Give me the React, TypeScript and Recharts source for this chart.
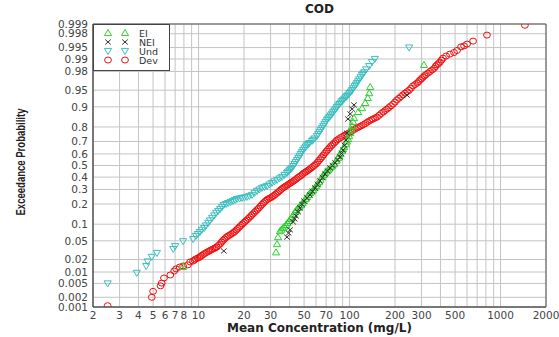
import React from "react";
import {
  ScatterChart,
  Scatter,
  XAxis,
  YAxis,
  CartesianGrid,
  ReferenceArea,
  Legend,
  Label,
} from "recharts";

// [concentration mg/L, exceedance probability]
const eiPoints: [number, number][] = [
  [7.9, 0.0135], [32.6, 0.029], [33.1, 0.043], [33.6, 0.059], [34.6, 0.076], [35.4, 0.081],
  [36.2, 0.086], [37.0, 0.0915], [37.9, 0.097], [38.8, 0.105], [39.7, 0.113], [40.6, 0.1215],
  [41.6, 0.13], [42.5, 0.1425], [43.5, 0.155], [44.5, 0.166], [45.6, 0.177], [46.6, 0.1855],
  [47.7, 0.194], [48.8, 0.2065], [49.9, 0.219], [51.1, 0.2325], [52.3, 0.246], [53.5, 0.26],
  [54.7, 0.274], [56.0, 0.285], [57.3, 0.296], [58.6, 0.3115], [60, 0.327], [61.4, 0.343],
  [62.8, 0.359], [64.2, 0.38], [65.7, 0.401], [67.2, 0.418], [68.8, 0.435], [70.4, 0.448],
  [72, 0.461], [73.7, 0.474], [75.4, 0.487], [77.2, 0.5], [79, 0.513], [81.3, 0.539],
  [83.9, 0.565], [85.2, 0.582], [86.5, 0.599], [89.1, 0.624], [90.5, 0.64], [91.9, 0.657],
  [94.7, 0.68], [96.2, 0.7], [97.7, 0.719], [99.3, 0.74], [101, 0.761], [102.5, 0.784],
  [104, 0.806], [105.5, 0.83], [107, 0.85], [114, 0.879], [121, 0.895], [127, 0.914],
  [132, 0.93], [135, 0.943], [137, 0.957], [311, 0.986],
];

const neiPoints: [number, number][] = [
  [14.7, 0.031], [38.5, 0.059], [39.5, 0.07], [40.4, 0.08], [42.3, 0.109], [43.3, 0.122],
  [44.2, 0.135], [45.6, 0.156], [47, 0.177], [48.4, 0.198], [49.9, 0.219], [52.3, 0.24],
  [54.7, 0.26], [56.8, 0.286], [59, 0.312], [61.3, 0.34], [63.7, 0.368], [66.2, 0.397],
  [68.8, 0.426], [71.5, 0.452], [74.3, 0.478], [77.2, 0.5], [80.2, 0.522], [83.3, 0.548],
  [86.5, 0.574], [88.5, 0.603], [90.6, 0.632], [92.6, 0.67], [94.7, 0.711], [96, 0.76],
  [97.7, 0.845], [101, 0.87], [104, 0.891], [107, 0.907], [240, 0.938],
];

const undPoints: [number, number][] = [
  [2.5, 0.005], [3.9, 0.0095], [4.5, 0.014], [4.6, 0.018], [4.9, 0.023], [5.3, 0.028],
  [6.8, 0.034], [7.0, 0.039], [7.9, 0.049], [9.2, 0.054], [9.6, 0.062], [9.9, 0.067],
  [10.2, 0.073], [10.5, 0.08], [10.9, 0.086], [11.2, 0.095], [11.6, 0.105], [11.9, 0.115],
  [12.3, 0.126], [12.7, 0.1375], [13.1, 0.15], [13.5, 0.16], [13.9, 0.171], [14.3, 0.1825],
  [14.7, 0.194], [15.2, 0.2], [15.7, 0.206], [16.3, 0.2125], [16.9, 0.219], [17.45, 0.2255],
  [18, 0.232], [18.7, 0.2355], [19.4, 0.239], [20.15, 0.2425], [20.9, 0.246], [21.7, 0.253],
  [22.6, 0.26], [23.5, 0.2745], [24.4, 0.289], [25.3, 0.3], [26.3, 0.312], [27.3, 0.3195],
  [28.4, 0.327], [29.5, 0.339], [30.6, 0.351], [31.8, 0.3635], [33.1, 0.376], [34.4, 0.3885],
  [35.7, 0.401], [37.1, 0.418], [38.5, 0.435], [39.2, 0.446], [40.0, 0.457], [40.8, 0.4675],
  [41.6, 0.478], [42.4, 0.4955], [43.2, 0.513], [44.0, 0.5305], [44.9, 0.548], [45.8, 0.565],
  [46.7, 0.582], [47.5, 0.599], [48.4, 0.616], [49.3, 0.6305], [50.3, 0.645], [51.3, 0.659],
  [52.3, 0.673], [53.3, 0.6805], [54.3, 0.688], [56.4, 0.704], [57.5, 0.713], [58.6, 0.722],
  [60.8, 0.74], [62.0, 0.754], [63.2, 0.768], [64.4, 0.781], [65.7, 0.794], [67.0, 0.806],
  [68.3, 0.818], [69.6, 0.829], [70.9, 0.84], [72.2, 0.8475], [73.6, 0.855], [75.0, 0.8625],
  [76.5, 0.87], [77.9, 0.8775], [79.4, 0.885], [81.0, 0.892], [82.6, 0.899], [84.1, 0.9045],
  [85.7, 0.91], [87.4, 0.915], [89.1, 0.92], [90.8, 0.924], [92.6, 0.928], [94.4, 0.9315],
  [96.2, 0.935], [98.1, 0.939], [100, 0.943], [102, 0.9465], [104, 0.95], [106, 0.954],
  [108, 0.958], [110, 0.961], [112, 0.964], [114, 0.967], [116, 0.97], [118.5, 0.973],
  [121, 0.976], [123, 0.9775], [125, 0.979], [129, 0.982], [135, 0.985], [141, 0.988],
  [147, 0.99], [248, 0.995],
];

const devPoints: [number, number][] = [
  [2.5, 0.0011], [4.9, 0.002], [5.0, 0.003], [5.6, 0.0043], [5.7, 0.0051], [5.9, 0.007],
  [6.5, 0.0084], [6.9, 0.0106], [7.1, 0.012], [7.5, 0.0133], [7.9, 0.0141], [8.5, 0.015],
  [8.8, 0.0176], [9.2, 0.0185], [9.4, 0.0196], [9.6, 0.0206], [9.85, 0.0215], [10.1, 0.0223],
  [10.3, 0.0235], [10.5, 0.0247], [10.75, 0.026], [11.0, 0.0274], [11.3, 0.0288], [11.6, 0.0302],
  [11.85, 0.0313], [12.1, 0.0325], [12.4, 0.0338], [12.7, 0.035], [12.95, 0.0363], [13.2, 0.0376],
  [13.55, 0.0405], [13.9, 0.0433], [14.2, 0.047], [14.5, 0.0507], [14.85, 0.0543], [15.2, 0.058],
  [15.55, 0.0606], [15.9, 0.0633], [16.3, 0.066], [16.7, 0.0688], [17.05, 0.0718], [17.4, 0.0748],
  [17.8, 0.0795], [18.2, 0.0844], [18.65, 0.0897], [19.1, 0.0951], [19.55, 0.1008], [20.0, 0.1066],
  [20.45, 0.1118], [20.9, 0.117], [21.4, 0.1237], [21.9, 0.1305], [22.4, 0.1376], [22.9, 0.1448],
  [23.45, 0.1525], [24.0, 0.1603], [24.55, 0.1685], [25.1, 0.1767], [25.7, 0.1868], [26.3, 0.197],
  [26.9, 0.2065], [27.5, 0.216], [28.15, 0.224], [28.8, 0.232], [29.5, 0.237], [30.2, 0.242],
  [30.9, 0.249], [31.6, 0.256], [32.35, 0.265], [33.1, 0.274], [33.85, 0.283], [34.6, 0.2925],
  [35.4, 0.302], [36.2, 0.3117], [37.05, 0.3193], [37.9, 0.327], [38.8, 0.335], [39.7, 0.343],
  [40.65, 0.351], [41.6, 0.3594], [42.55, 0.3675], [43.5, 0.3757], [44.55, 0.386], [45.6, 0.3967],
  [46.65, 0.405], [47.7, 0.4136], [48.8, 0.424], [49.9, 0.435], [51.1, 0.4435], [52.3, 0.452],
  [53.5, 0.461], [54.7, 0.47], [56.0, 0.4805], [57.3, 0.491], [58.65, 0.502], [60.0, 0.513],
  [61.4, 0.528], [62.8, 0.5435], [64.2, 0.559], [65.7, 0.574], [67.2, 0.591], [68.8, 0.608],
  [70.4, 0.6225], [72.0, 0.637], [73.7, 0.651], [75.4, 0.665], [77.2, 0.6765], [79.0, 0.688],
  [80.8, 0.6995], [82.6, 0.711], [85.1, 0.7205], [87.7, 0.73], [90.5, 0.7385], [93.3, 0.747],
  [96.2, 0.754], [99.2, 0.761], [102, 0.7695], [105, 0.778], [108.5, 0.786], [112, 0.794],
  [115.5, 0.8], [119, 0.806], [123, 0.813], [127, 0.82], [131, 0.8275], [135, 0.835],
  [139, 0.84], [143, 0.845], [147.5, 0.85], [152, 0.855], [157, 0.8635], [162, 0.872],
  [167, 0.8785], [172, 0.885], [177, 0.891], [182, 0.897], [188, 0.9035], [194, 0.91],
  [200, 0.917], [206, 0.924], [212.5, 0.929], [219, 0.934], [226, 0.9385], [233, 0.943],
  [240.5, 0.9465], [248, 0.95], [255.5, 0.9545], [263, 0.959], [271.5, 0.9615], [280, 0.964],
  [286.5, 0.9665], [293, 0.969], [299.5, 0.971], [306, 0.973], [313.5, 0.975], [321, 0.9765],
  [331, 0.9783], [341, 0.98], [352, 0.9815], [363, 0.983], [371, 0.9847], [379, 0.986],
  [388, 0.987], [397, 0.988], [406, 0.9893], [416, 0.9905], [436, 0.9916], [462, 0.9925],
  [492, 0.9932], [515, 0.994], [547, 0.9952], [573, 0.9955], [600, 0.996], [658, 0.9967],
  [813, 0.9978], [1450, 0.9989],
];

const yTickProbs = [
  0.001, 0.002, 0.005, 0.01, 0.02, 0.05, 0.1, 0.2, 0.3, 0.4, 0.5, 0.6, 0.7, 0.8, 0.9,
  0.95, 0.98, 0.99, 0.995, 0.998, 0.999,
];
const xGridValues = [
  2, 3, 4, 5, 6, 7, 8, 9, 10, 20, 30, 40, 50, 60, 70, 80, 90, 100, 200, 300, 400, 500,
  600, 700, 800, 900, 1000, 2000,
];
const xLabelValues = [2, 3, 4, 5, 6, 7, 8, 10, 20, 30, 50, 70, 100, 200, 300, 500, 1000, 2000];

const GREEN = "#2fd02f";
const CYAN = "#3bbfbf";
const RED = "#ee1111";
const BLACK = "#333";
const FONT = "'DejaVu Sans', Verdana, sans-serif";

// inverse normal CDF (Acklam) - maps probability onto the probability-paper axis
function probit(p: number): number {
  const a = [-39.69683028665376, 220.9460984245205, -275.9285104469687, 138.357751867269, -30.66479806614716, 2.506628277459239];
  const b = [-54.47609879822406, 161.5858368580409, -155.6989798598866, 66.80131188771972, -13.28068155288572];
  const c = [-0.007784894002430293, -0.3223964580411365, -2.400758277161838, -2.549732530988818, 4.374664141464968, 2.938163982698783];
  const d = [0.007784695709041462, 0.3224671290700398, 2.445134137142996, 3.754408661907416];
  const lo = 0.02425;
  if (p < lo) {
    const q = Math.sqrt(-2 * Math.log(p));
    return (((((c[0] * q + c[1]) * q + c[2]) * q + c[3]) * q + c[4]) * q + c[5]) /
      ((((d[0] * q + d[1]) * q + d[2]) * q + d[3]) * q + 1);
  }
  if (p > 1 - lo) {
    const q = Math.sqrt(-2 * Math.log(1 - p));
    return -(((((c[0] * q + c[1]) * q + c[2]) * q + c[3]) * q + c[4]) * q + c[5]) /
      ((((d[0] * q + d[1]) * q + d[2]) * q + d[3]) * q + 1);
  }
  const q = p - 0.5;
  const r = q * q;
  return ((((((a[0] * r + a[1]) * r + a[2]) * r + a[3]) * r + a[4]) * r + a[5]) * q) /
    (((((b[0] * r + b[1]) * r + b[2]) * r + b[3]) * r + b[4]) * r + 1);
}

const toXY = (pts: [number, number][]) => pts.map(([c, p]) => ({ x: c, y: probit(p) }));

const yTicks = yTickProbs.map(probit);
const yMin = probit(0.001);
const yMax = probit(0.999);

function TriUp({ cx, cy, color }: any) {
  return <polygon points={`${cx},${cy - 3.5} ${cx - 3.6},${cy + 2.6} ${cx + 3.6},${cy + 2.6}`} fill="none" stroke={color} strokeWidth={1} />;
}
function TriDown({ cx, cy, color }: any) {
  return <polygon points={`${cx - 3.6},${cy - 2.6} ${cx + 3.6},${cy - 2.6} ${cx},${cy + 3.5}`} fill="none" stroke={color} strokeWidth={1} />;
}
function Cross({ cx, cy, color }: any) {
  return (
    <g stroke={color} strokeWidth={1}>
      <line x1={cx - 2.8} y1={cy - 2.5} x2={cx + 2.8} y2={cy + 2.5} />
      <line x1={cx - 2.8} y1={cy + 2.5} x2={cx + 2.8} y2={cy - 2.5} />
    </g>
  );
}
function Ring({ cx, cy, color }: any) {
  return <ellipse cx={cx} cy={cy} rx={3.4} ry={3} fill="none" stroke={color} strokeWidth={1} />;
}

const legendItems = [
  { name: "EI", Shape: TriUp, color: GREEN },
  { name: "NEI", Shape: Cross, color: BLACK },
  { name: "Und", Shape: TriDown, color: CYAN },
  { name: "Dev", Shape: Ring, color: RED },
];

function LegendBox() {
  return (
    <svg width={77} height={47} style={{ display: "block" }}>
      <rect x={0.5} y={0.5} width={76} height={46} fill="#fff" stroke="#444" />
      {legendItems.map((it, i) => {
        const y = 9 + i * 9;
        return (
          <g key={it.name}>
            <it.Shape cx={15} cy={y} color={it.color} />
            <it.Shape cx={32} cy={y} color={it.color} />
            <text x={46} y={y} dominantBaseline="central" fontSize={9.5} fontFamily={FONT} fill="#333">
              {it.name}
            </text>
          </g>
        );
      })}
    </svg>
  );
}

export default function App() {
  const tick = { fill: "#444", fontSize: 10.5, fontFamily: FONT };
  return (
    <div style={{ position: "absolute", left: 0, top: 0, width: 559, height: 337, background: "#fff" }}>
      <div
        style={{
          position: "absolute", left: 93, top: 2, width: 453, textAlign: "center",
          fontFamily: FONT, fontWeight: "bold", fontSize: 12, color: "#222",
        }}
      >
        COD
      </div>
      <ScatterChart width={559} height={337} margin={{ top: 24, right: 13, bottom: 0, left: 0 }}>
        <CartesianGrid stroke="#c4c4c4" />
        <XAxis
          dataKey="x"
          type="number"
          scale="log"
          domain={[2, 2000]}
          allowDataOverflow
          ticks={xGridValues}
          interval={0}
          tickFormatter={(v: number) => (xLabelValues.includes(v) ? String(v) : "")}
          tickLine={false}
          axisLine={{ stroke: "#555" }}
          tick={tick}
          tickSize={3}
          tickMargin={2}
          height={30}
        >
          <Label
            value="Mean Concentration (mg/L)"
            position="insideBottom"
            offset={5}
            style={{ fontFamily: FONT, fontWeight: "bold", fontSize: 12, fill: "#222" }}
          />
        </XAxis>
        <YAxis
          dataKey="y"
          type="number"
          domain={[yMin, yMax]}
          allowDataOverflow
          ticks={yTicks}
          interval={0}
          tickFormatter={(v: number) => {
            let best = 0;
            yTicks.forEach((t, i) => {
              if (Math.abs(t - v) < Math.abs(yTicks[best] - v)) best = i;
            });
            return String(yTickProbs[best]);
          }}
          tickLine={false}
          axisLine={{ stroke: "#555" }}
          tick={tick}
          tickSize={3}
          tickMargin={2}
          width={93}
        >
          <Label
            content={() => (
              <text
                x={21}
                y={162}
                transform="rotate(-90, 21, 162)"
                textAnchor="middle"
                dominantBaseline="central"
                fontFamily="'Liberation Sans Narrow', 'Liberation Sans', Arial, sans-serif"
                fontWeight="bold"
                fontSize={12}
                fill="#222"
                textLength={107}
                lengthAdjust="spacingAndGlyphs"
              >
                Exceedance Probability
              </text>
            )}
          />
        </YAxis>
        <ReferenceArea x1={2} x2={2000} y1={yMin} y2={yMax} fill="none" fillOpacity={0} stroke="#555" strokeOpacity={1} />
        <Scatter name="Dev" data={toXY(devPoints)} isAnimationActive={false} shape={(p: any) => <Ring cx={p.cx} cy={p.cy} color={RED} />} />
        <Scatter name="Und" data={toXY(undPoints)} isAnimationActive={false} shape={(p: any) => <TriDown cx={p.cx} cy={p.cy} color={CYAN} />} />
        <Scatter name="EI" data={toXY(eiPoints)} isAnimationActive={false} shape={(p: any) => <TriUp cx={p.cx} cy={p.cy} color={GREEN} />} />
        <Scatter name="NEI" data={toXY(neiPoints)} isAnimationActive={false} shape={(p: any) => <Cross cx={p.cx} cy={p.cy} color={BLACK} />} />
        <Legend
          layout="vertical"
          align="center"
          verticalAlign="middle"
          wrapperStyle={{ left: 93, top: 24, width: 77, height: 47 }}
          content={() => <LegendBox />}
        />
      </ScatterChart>
    </div>
  );
}
